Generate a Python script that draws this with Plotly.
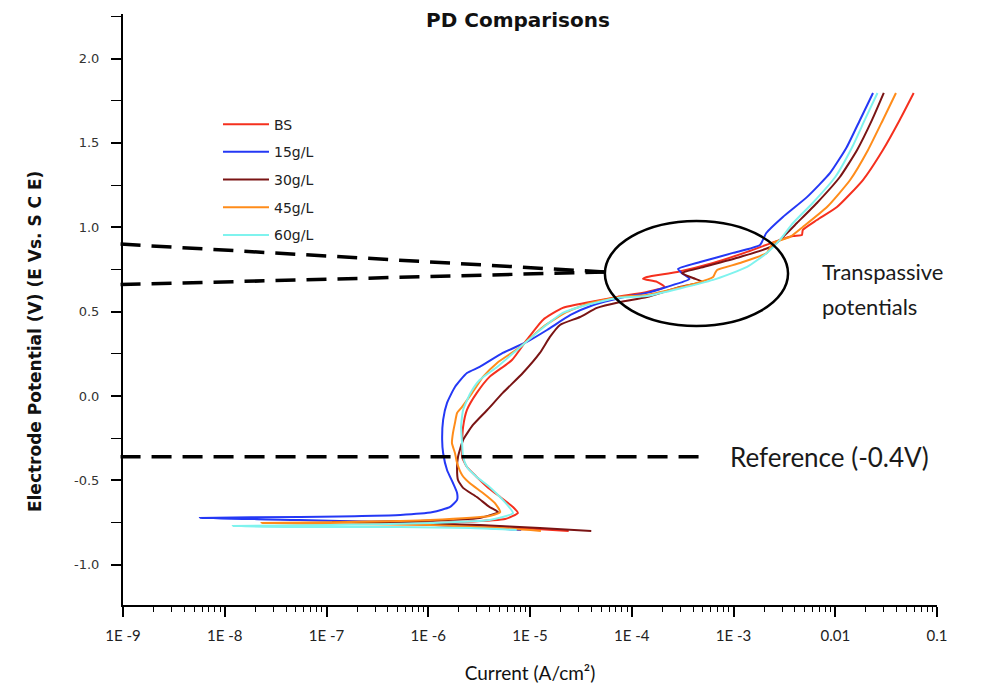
import plotly.graph_objects as go

# ---------------- data (current in A/cm^2, potential in V vs SCE) ----------------
bs_i = [2.4e-5, 8.0e-6, 2.6e-6, 5.3e-7, 2.05e-6, 5.7e-6, 7.6e-6, 6.8e-6, 5.1e-6, 3.8e-6, 3.0e-6,
        2.4e-6, 2.15e-6, 2.15e-6, 2.2e-6, 2.4e-6, 3.0e-6, 4.0e-6, 6.65e-6, 9.3e-6, 1.34e-5,
        2.1e-5, 3.9e-5, 7.2e-5, 1.41e-4, 2.1e-4, 1.77e-4, 1.29e-4, 1.41e-4, 2.8e-4, 6.3e-4,
        1.36e-3, 2.86e-3, 3.85e-3, 4.7e-3, 4.8e-3, 6.6e-3, 1.04e-2, 1.87e-2, 2.94e-2, 4.3e-2, 5.9e-2]
bs_v = [-0.800, -0.783, -0.765, -0.759, -0.747, -0.729, -0.694, -0.658, -0.599, -0.539, -0.480,
        -0.421, -0.362, -0.279, -0.184, -0.083, 0.018, 0.113, 0.213, 0.332, 0.451,
        0.522, 0.557, 0.587, 0.616, 0.646, 0.676, 0.694, 0.705, 0.735, 0.788,
        0.854, 0.925, 0.948, 0.954, 0.984, 1.043, 1.120, 1.280, 1.458, 1.636, 1.796]

g15_i = [8.2e-6, 2.6e-6, 5.3e-7, 5.5e-8, 5.7e-9, 5.5e-8, 5.3e-7, 1.11e-6, 1.64e-6, 1.92e-6, 1.92e-6,
         1.75e-6, 1.53e-6, 1.40e-6, 1.37e-6, 1.40e-6, 1.53e-6, 1.83e-6, 2.4e-6, 3.2e-6, 5.4e-6,
         9.3e-6, 1.47e-5, 2.5e-5, 4.2e-5, 7.7e-5, 1.41e-4, 2.2e-4, 3.7e-4, 3.1e-4, 2.85e-4,
         4.7e-4, 9.9e-4, 1.82e-3, 2.1e-3, 3.06e-3, 5.3e-3, 8.9e-3, 1.30e-2, 1.75e-2, 2.35e-2]
g15_v = [-0.794, -0.777, -0.753, -0.735, -0.723, -0.717, -0.705, -0.688, -0.658, -0.616, -0.575,
         -0.516, -0.439, -0.338, -0.261, -0.142, -0.041, 0.053, 0.136, 0.172, 0.255,
         0.320, 0.391, 0.480, 0.539, 0.581, 0.611, 0.646, 0.694, 0.729, 0.753,
         0.794, 0.848, 0.895, 0.966, 1.061, 1.180, 1.322, 1.476, 1.636, 1.796]

g30_i = [4.0e-5, 1.25e-5, 3.2e-6, 5.3e-7, 1.16e-7, 8.3e-7, 3.2e-6, 4.85e-6, 4.0e-6, 3.0e-6, 2.2e-6,
         1.96e-6, 1.92e-6, 1.96e-6, 2.2e-6, 2.75e-6, 3.8e-6, 5.4e-6, 8.5e-6, 1.25e-5, 1.57e-5,
         1.97e-5, 3.1e-5, 4.55e-5, 7.7e-5, 1.41e-4, 2.97e-4, 5.0e-4, 4.0e-4, 3.1e-4, 4.7e-4,
         1.16e-3, 2.44e-3, 3.36e-3, 4.2e-3, 6.6e-3, 1.11e-2, 1.64e-2, 2.3e-2, 3.0e-2]
g30_v = [-0.800, -0.783, -0.765, -0.753, -0.747, -0.741, -0.723, -0.688, -0.658, -0.599, -0.545,
         -0.498, -0.421, -0.362, -0.261, -0.172, -0.083, 0.018, 0.136, 0.255, 0.350,
         0.421, 0.468, 0.522, 0.557, 0.587, 0.646, 0.676, 0.699, 0.729, 0.759,
         0.824, 0.889, 0.966, 1.025, 1.144, 1.298, 1.458, 1.636, 1.796]

g45_i = [1.28e-5, 5.1e-6, 1.04e-6, 1.7e-7, 2.3e-8, 1.7e-7, 1.04e-6, 4.0e-6, 5.1e-6, 4.5e-6, 3.45e-6,
         2.55e-6, 2.15e-6, 1.92e-6, 1.83e-6, 1.71e-6, 1.75e-6, 1.83e-6, 1.92e-6, 2.15e-6, 2.7e-6,
         3.45e-6, 4.75e-6, 8.0e-6, 1.34e-5, 2.3e-5, 3.9e-5, 7.7e-5, 1.41e-4, 4.4e-4, 6.3e-4,
         6.6e-4, 6.9e-4, 1.16e-3, 2.13e-3, 2.44e-3, 3.6e-3, 4.8e-3, 8.3e-3, 1.40e-2, 2.1e-2,
         2.94e-2, 3.95e-2]
g45_v = [-0.800, -0.783, -0.765, -0.759, -0.753, -0.747, -0.735, -0.711, -0.688, -0.634, -0.575,
         -0.516, -0.468, -0.397, -0.338, -0.279, -0.219, -0.160, -0.101, -0.065, 0.018,
         0.113, 0.196, 0.290, 0.409, 0.498, 0.551, 0.587, 0.599, 0.670, 0.705,
         0.729, 0.747, 0.788, 0.848, 0.907, 0.943, 1.002, 1.120, 1.280, 1.458,
         1.636, 1.796]

g60_i = [7.4e-6, 2.6e-6, 5.3e-7, 5.5e-8, 1.2e-8, 1.08e-7, 1.04e-6, 4.0e-6, 6.8e-6, 5.4e-6, 4.0e-6,
         3.0e-6, 2.4e-6, 2.2e-6, 2.15e-6, 2.1e-6, 2.2e-6, 2.6e-6, 3.2e-6, 4.75e-6, 7.45e-6,
         1.26e-5, 2.1e-5, 3.6e-5, 7.2e-5, 1.41e-4, 6.3e-4, 1.36e-3, 2.13e-3, 2.86e-3, 3.85e-3,
         6.0e-3, 1.0e-2, 1.47e-2, 1.95e-2, 2.6e-2]
g60_v = [-0.794, -0.783, -0.777, -0.777, -0.771, -0.765, -0.753, -0.735, -0.694, -0.616, -0.539,
         -0.480, -0.421, -0.362, -0.279, -0.184, -0.083, 0.018, 0.095, 0.172, 0.273,
         0.391, 0.492, 0.539, 0.581, 0.593, 0.688, 0.765, 0.848, 0.925, 1.025,
         1.144, 1.298, 1.476, 1.636, 1.796]

series_names = ["BS", "15g/L", "30g/L", "45g/L", "60g/L"]
series_colors = ["#F5301E", "#2438F5", "#7A1414", "#FF8C1A", "#7FF3EE"]

x_tick_vals = [1e-9, 1e-8, 1e-7, 1e-6, 1e-5, 1e-4, 1e-3, 1e-2, 1e-1]
x_tick_text = ["1E -9", "1E -8", "1E -7", "1E -6", "1E -5", "1E -4", "1E -3", "0.01", "0.1"]
y_tick_vals = [-1.0, -0.5, 0.0, 0.5, 1.0, 1.5, 2.0]
y_tick_text = ["-1.0", "-0.5", "0.0", "0.5", "1.0", "1.5", "2.0"]

# annotation levels (V)
reference_level = -0.36
transpassive_upper = 0.90
transpassive_lower = 0.66
transpassive_meet = 0.735

# ---------------- figure ----------------
fig = go.Figure()
data = [(bs_i, bs_v), (g15_i, g15_v), (g30_i, g30_v), (g45_i, g45_v), (g60_i, g60_v)]
for (xi, yv), name, col in zip(data, series_names, series_colors):
    fig.add_trace(go.Scatter(
        x=xi, y=yv, mode="lines", name=name, legendgroup=name,
        line=dict(color=col, width=2, shape="spline", smoothing=0.5),
    ))

black = "#000000"
fig.update_layout(
    width=989, height=688,
    margin=dict(l=115, r=60, t=6, b=91),
    paper_bgcolor="white", plot_bgcolor="white",
    showlegend=True,
    legend=dict(x=0.1167, y=0.84, xanchor="left", yanchor="top", itemwidth=46,
                bgcolor="rgba(0,0,0,0)", tracegroupgap=6.5,
                font=dict(family="DejaVu Sans", size=14, color="#222222")),
    xaxis=dict(
        type="log", range=[-9, -1], automargin=False,
        tickmode="array", tickvals=x_tick_vals, ticktext=x_tick_text,
        ticks="outside", ticklen=10, tickwidth=1.5, tickcolor=black,
        ticklabelstandoff=6,
        minor=dict(ticks="outside", ticklen=5, tickwidth=1, tickcolor=black, dtick="D1"),
        showline=True, linecolor=black, linewidth=2, showgrid=False, zeroline=False,
        tickfont=dict(family="Lato", size=15, color="#222222"),
        title=dict(text="Current (A/cm²)", standoff=24,
                   font=dict(family="Lato", size=19, color="#111111")),
    ),
    yaxis=dict(
        range=[-1.239, 2.264], automargin=False,
        tickmode="array", tickvals=y_tick_vals, ticktext=y_tick_text,
        ticks="outside", ticklen=10, tickwidth=1.5, tickcolor=black,
        ticklabelstandoff=9,
        minor=dict(ticks="outside", ticklen=10, tickwidth=1, tickcolor=black, dtick=0.25),
        showline=True, linecolor=black, linewidth=2, showgrid=False, zeroline=False,
        tickfont=dict(family="DejaVu Sans", size=13, color="#333333"),
    ),
)

# title & y axis title as annotations
fig.add_annotation(text="<b>PD Comparisons</b>", xref="paper", yref="paper",
                   x=0.485, y=0.99, xanchor="center", yanchor="middle", showarrow=False,
                   font=dict(family="DejaVu Sans", size=20, color="#111111"))
fig.add_annotation(text="<b>Electrode Potential (V) (E Vs. S C E)</b>", xref="paper", yref="paper",
                   x=-0.108, y=0.445, xanchor="center", yanchor="middle", textangle=-90,
                   showarrow=False, font=dict(family="DejaVu Sans", size=17, color="#111111"))

# dashed guide lines
dash_style = dict(color=black, width=3.5, dash="20px,11px")
fig.add_shape(type="line", xref="paper", yref="y", x0=-0.003, x1=0.592,
              y0=transpassive_upper, y1=transpassive_meet, line=dash_style)
fig.add_shape(type="line", xref="paper", yref="y", x0=-0.003, x1=0.592,
              y0=transpassive_lower, y1=transpassive_meet, line=dash_style)
fig.add_shape(type="line", xref="paper", yref="y", x0=-0.003, x1=0.709,
              y0=reference_level, y1=reference_level, line=dash_style)

# ellipse around transpassive region
fig.add_shape(type="circle", xref="paper", yref="y", x0=0.592, x1=0.817,
              y0=0.415, y1=1.037, line=dict(color=black, width=2.5))

fig.add_annotation(text="Transpassive", xref="paper", yref="y",
                   x=0.856, y=0.735, xanchor="left", yanchor="middle", align="left",
                   showarrow=False, font=dict(family="Lato", size=22, color="#1a1a1a"))
fig.add_annotation(text="potentials", xref="paper", yref="y",
                   x=0.856, y=0.528, xanchor="left", yanchor="middle", align="left",
                   showarrow=False, font=dict(family="Lato", size=22, color="#1a1a1a"))
fig.add_annotation(text="Reference (-0.4V)", xref="paper", yref="y",
                   x=0.743, y=reference_level, xanchor="left", yanchor="middle", align="left",
                   showarrow=False, font=dict(family="Lato", size=26, color="#1a1a1a"))

fig.write_html("out.html")
